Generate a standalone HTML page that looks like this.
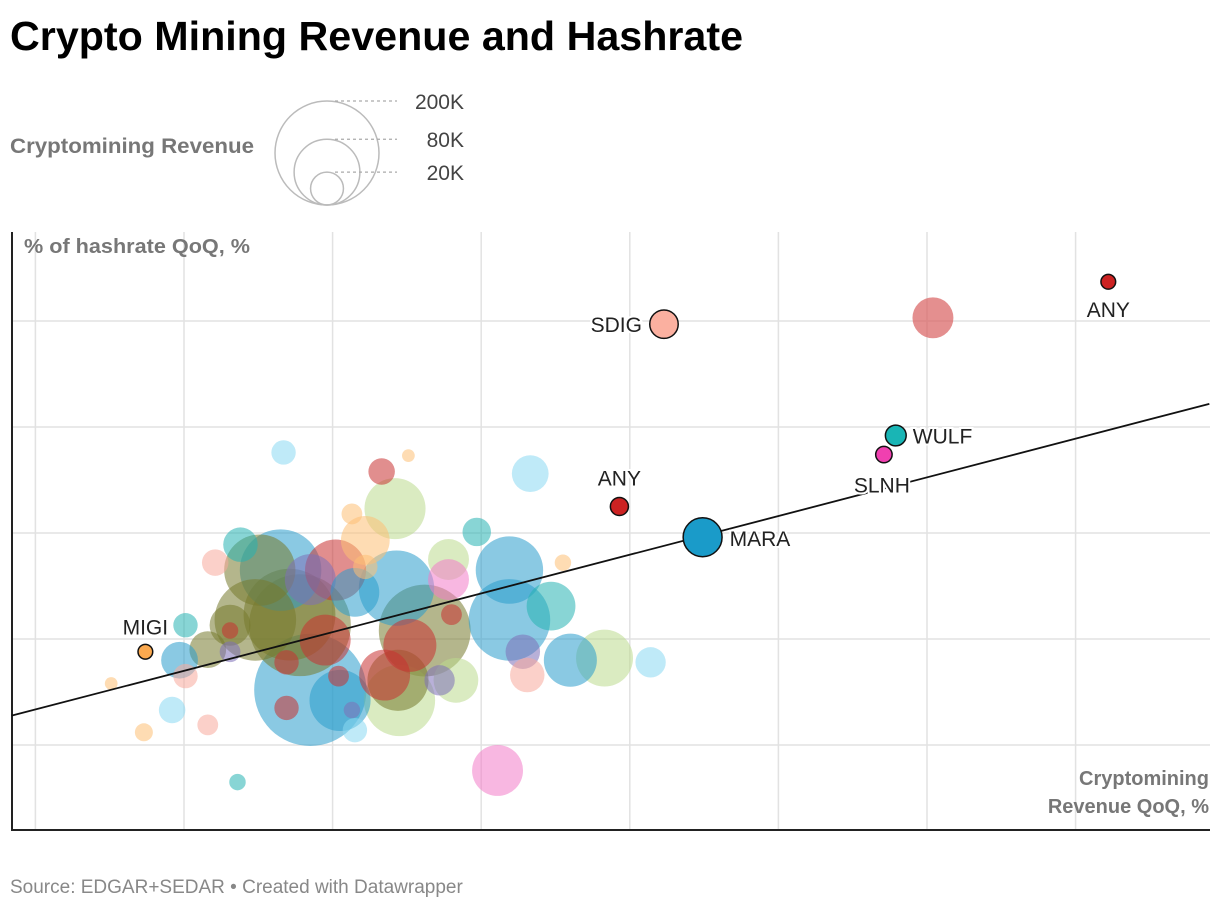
<!DOCTYPE html>
<html><head><meta charset="utf-8"><style>
body{margin:0;background:#fff;font-family:"Liberation Sans",sans-serif;}
</style></head><body>
<svg id="chart" width="1220" height="910" xmlns="http://www.w3.org/2000/svg" font-family="Liberation Sans, sans-serif">
<text x="10" y="50" font-size="41" font-weight="bold" fill="#000" textLength="733" lengthAdjust="spacingAndGlyphs">Crypto Mining Revenue and Hashrate</text>
<g id="legend">
<text x="10" y="153" font-size="21" font-weight="bold" fill="#777" textLength="244" lengthAdjust="spacingAndGlyphs">Cryptomining Revenue</text>
</g>
<g id="grid"></g>
<g id="bubbles"></g>
<g id="labels"></g>
<text x="24" y="253" font-size="20" font-weight="bold" fill="#777" textLength="226" lengthAdjust="spacingAndGlyphs">% of hashrate QoQ, %</text>
<text x="1209" y="785" font-size="20" font-weight="bold" fill="#777" text-anchor="end">Cryptomining</text>
<text x="1209" y="813" font-size="20" font-weight="bold" fill="#777" text-anchor="end">Revenue QoQ, %</text>
<text x="10" y="893" font-size="19" fill="#888">Source: EDGAR+SEDAR • Created with Datawrapper</text>
</svg>
<script>
const xTicks=[-100,0,100,200,300,400,500,600];
const yTicks=[0,100,200,300,400];
const legendValues=[200,80,20];
const legendLabels=["200K","80K","20K"];
const bx=[67,133,151,233,142,113,122,197,178,178,219,255,247,219,260,283,314,228,231,211,143,162,152,180,183,145,144,135,113,115,105,95,104,85,78,102,85,65,51,38,21,48,71,31,16,1,-3,1,31,31,69,69,16,-8,-27,-49,36,122,172,115];
const by=[276,258,273,256,223,218,193,201,175,156,165,172,131,118,80,82,78,88,66,-24,148,108,94,123,61,42,61,66,33,14,42,99,65,52,113,165,156,165,165,189,172,118,123,113,90,113,80,65,108,88,78,35,19,33,12,58,-35,168,61,144];
const bs=[11,13,3,25,69,8,44,15,31,31,84,5,44,123,52,60,17,22,22,48,105,156,52,8,37,94,69,48,5,11,69,48,8,233,192,69,48,123,94,22,13,123,156,31,25,11,25,11,5,8,11,11,8,13,6,3,5,11,17,44];
const bc=["lb","r","o","lb","lg","o","o","t","lg","p","b","o","t","b","b","lg","lb","pu","s","p","b","ol","r","r","lg","lg","ol","r","pu","lb","b","r","r","b","ol","r","pu","b","ol","t","s","ol","ol","ol","ol","t","b","s","r","pu","r","r","s","lb","o","o","t","o","pu","b"];
const lx=[323,622,504,479,471,293,349,-26];
const ly=[397,437,403,292,274,225,196,88];
const ls=[15,4,31,8,5,6,28,4];
const lc=["#fbb0a0","#cc2222","#d96060","#19b5b5","#f040b0","#cc2222","#1a9bc9","#fba94f"];
const lnames=["SDIG","ANY","","WULF","SLNH","ANY","MARA","MIGI"];
const lstroke=[1,1,0,1,1,1,1,1];
const trend=[70,0.365];
const palette={lb:"#8ad8f3",r:"#c83232",o:"#fdbf75",lg:"#bcdb8e",t:"#26b3b3",p:"#f27cc9",b:"#2a9ccc",pu:"#7d70b8",s:"#f7a99c",ol:"#777a2e"};
const NS="http://www.w3.org/2000/svg";
const X=v=>184+v*1.486, Y=v=>745-v*1.06, R=v=>52*Math.sqrt(v/200);
function mk(t,a,p){const e=document.createElementNS(NS,t);for(const k in a)e.setAttribute(k,a[k]);p.appendChild(e);return e;}
const leg=document.getElementById('legend');
legendValues.forEach((v,i)=>{const r=R(v);
const c=mk('circle',{cx:327,cy:205-r,r:r,fill:'none',stroke:'#bbb','stroke-width':1.5},leg);


const l=mk('line',{x1:335,x2:397,y1:205-2*r,y2:205-2*r,stroke:'#aaa','stroke-dasharray':'3,3','stroke-width':1.3},leg);


const t=mk('text',{x:464,y:205-2*r+8,'font-size':21,fill:'#444','text-anchor':'end'},leg);t.textContent=legendLabels[i];

});
const g=document.getElementById('grid');
xTicks.forEach(v=>{const l=mk('line',{x1:X(v),x2:X(v),y1:232,y2:830,stroke:'#e2e2e2','stroke-width':1.5},g);

});
yTicks.forEach(v=>{const l=mk('line',{x1:12,x2:1210,y1:Y(v),y2:Y(v),stroke:'#e2e2e2','stroke-width':1.5},g);

});
const ax=mk('line',{x1:12,x2:12,y1:232,y2:831,stroke:'#222','stroke-width':2},g);


const ax2=mk('line',{x1:11,x2:1210,y1:830,y2:830,stroke:'#222','stroke-width':2},g);


const B=document.getElementById('bubbles');
const idx=bx.map((_,i)=>i).sort((a,b)=>bs[b]-bs[a]);
idx.forEach(i=>{const c=mk('circle',{cx:X(bx[i]),cy:Y(by[i]),r:R(bs[i]),fill:palette[bc[i]],'fill-opacity':0.55},B);

});
const x0=-116,x1=690;
const tl=mk('line',{x1:X(x0),y1:Y(trend[0]+trend[1]*x0),x2:X(x1),y2:Y(trend[0]+trend[1]*x1),stroke:'#111','stroke-width':1.8},B);


const L=document.getElementById('labels');
const lpos=[[-22,8,'end'],[0,35,'middle'],[0,0,'middle'],[17,8,'start'],[-2,38,'middle'],[0,-21,'middle'],[27,9,'start'],[0,-17,'middle']];
lx.forEach((v,i)=>{const cx=X(v),cy=Y(ly[i]);
const c=mk('circle',{cx:cx,cy:cy,r:R(ls[i]),fill:lc[i],'fill-opacity':lstroke[i]?1:0.7,stroke:lstroke[i]?'#111':'none','stroke-width':1.5},L);


if(lnames[i]){const p=lpos[i];const t=mk('text',{x:cx+p[0],y:cy+p[1],'font-size':21,fill:'#222','text-anchor':p[2],stroke:'#fff','stroke-width':4,'paint-order':'stroke'},L);t.textContent=lnames[i];

}});
</script>
</body></html>
